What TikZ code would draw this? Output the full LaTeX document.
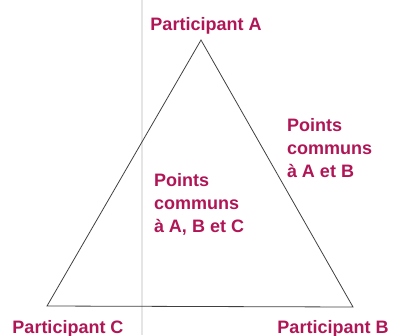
\documentclass[tikz,border=0pt]{standalone}
\usepackage{fontspec}
\setmainfont{Liberation Sans}
\usetikzlibrary{positioning}
\definecolor{pointcolor}{RGB}{176,22,86}
\tikzstyle{participant}=[font=\bfseries\fontsize{18}{23}\selectfont, text=pointcolor,
                         inner sep=0, outer sep=0]
\tikzstyle{points}=[participant, align=left, anchor=north west]
\tikzstyle{side}=[draw=black!75, line width=0.8pt]
\tikzstyle{pageedge}=[draw=black!10, line width=1.2pt]

\begin{document}
\begin{tikzpicture}[x=1pt, y=-1pt]
        \useasboundingbox (0,0) rectangle (393,335);
        % faint page edge behind the triangle
        \coordinate (edgetop) at (142,0);
        \coordinate (edgebottom) at (142,335);
        \draw[pageedge] (edgetop) -- (edgebottom);
        \coordinate (A) at (201,40);
        \coordinate (B) at (353,307);
        \coordinate (C) at (47,306);
        \draw[side] (A) -- (B) -- (C) -- cycle;
        \node[participant, anchor=base] (labelA) at (206,30) {Participant A};
        \node[participant, anchor=base] (labelB) at (333,333) {Participant B};
        \node[participant, anchor=base] (labelC) at (68,333) {Participant C};
        \node[points] (commonAB) at (287,118) {Points\\communs\\à A et B};
        \node[points] (commonABC) at (154,173) {Points\\communs\\à A, B et C};
    \end{tikzpicture}
\end{document}
